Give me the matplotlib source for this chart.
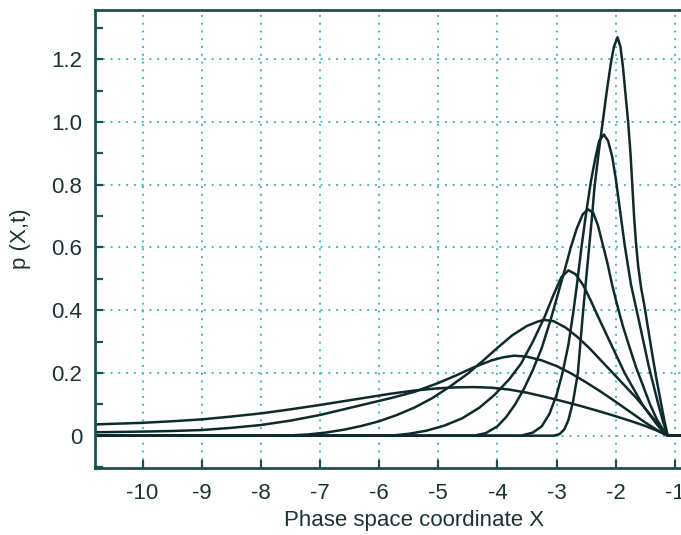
import numpy as np
import matplotlib
matplotlib.use('Agg')
import matplotlib.pyplot as plt
from matplotlib.ticker import MultipleLocator, FixedLocator

plt.rcParams['font.family'] = ['Liberation Sans', 'DejaVu Sans']

# curves, from tallest (latest) to flattest;
# each one lies on p = 0 outside its support
c1_x = [-10.8, -3.05, -2.95, -2.87, -2.8, -2.72, -2.64, -2.6, -2.55, -2.5, -2.45, -2.4, -2.36,
        -2.29, -2.22, -2.15, -2.08, -2.03, -1.97, -1.92, -1.88, -1.84, -1.79, -1.75, -1.72,
        -1.69, -1.66, -1.62, -1.57, -1.52, -1.46, -1.4, -1.32, -1.25, -1.18, -1.12, 0.0]
c1_y = [0.0, 0.0, 0.005, 0.02, 0.05, 0.11, 0.2, 0.29, 0.4, 0.5, 0.6, 0.7, 0.79,
        0.9, 1.0, 1.1, 1.19, 1.24, 1.27, 1.24, 1.18, 1.1, 1.0, 0.9, 0.8,
        0.7, 0.62, 0.54, 0.47, 0.42, 0.35, 0.28, 0.19, 0.12, 0.05, 0.0, 0.0]

c2_x = [-10.8, -3.6, -3.4, -3.25, -3.12, -3.0, -2.9, -2.8, -2.72, -2.65, -2.58, -2.5, -2.42,
        -2.35, -2.28, -2.2, -2.13, -2.06, -2.0, -1.95, -1.9, -1.85, -1.8, -1.74, -1.67,
        -1.6, -1.52, -1.44, -1.36, -1.28, -1.2, -1.12, 0.0]
c2_y = [0.0, 0.0, 0.01, 0.03, 0.07, 0.13, 0.2, 0.29, 0.39, 0.49, 0.6, 0.71, 0.81,
        0.88, 0.94, 0.96, 0.94, 0.89, 0.82, 0.75, 0.68, 0.61, 0.55, 0.48, 0.42,
        0.36, 0.29, 0.22, 0.16, 0.1, 0.045, 0.0, 0.0]

c3_x = [-10.8, -4.4, -4.2, -4.0, -3.85, -3.7, -3.55, -3.4, -3.25, -3.1, -2.98, -2.86, -2.76,
        -2.66, -2.56, -2.47, -2.38, -2.3, -2.22, -2.14, -2.06, -1.98, -1.88, -1.78, -1.66,
        -1.54, -1.42, -1.3, -1.2, -1.12, 0.0]
c3_y = [0.0, 0.0, 0.008, 0.03, 0.06, 0.1, 0.15, 0.21, 0.28, 0.37, 0.45, 0.53, 0.6,
        0.66, 0.705, 0.722, 0.71, 0.67, 0.61, 0.55, 0.48, 0.42, 0.35, 0.29, 0.22,
        0.16, 0.1, 0.05, 0.02, 0.0, 0.0]

c4_x = [-10.8, -5.8, -5.5, -5.2, -4.9, -4.6, -4.3, -4.05, -3.8, -3.6, -3.4, -3.2, -3.05,
        -2.92, -2.8, -2.68, -2.55, -2.42, -2.3, -2.15, -2.0, -1.85, -1.7, -1.55, -1.4,
        -1.28, -1.18, -1.12, 0.0]
c4_y = [0.0, 0.0, 0.006, 0.016, 0.032, 0.055, 0.09, 0.13, 0.18, 0.23, 0.3, 0.38, 0.45,
        0.505, 0.527, 0.515, 0.48, 0.43, 0.38, 0.32, 0.26, 0.2, 0.15, 0.1, 0.06,
        0.03, 0.01, 0.0, 0.0]

c5_x = [-10.8, -7.6, -7.2, -6.9, -6.6, -6.3, -6.0, -5.7, -5.4, -5.1, -4.8, -4.5, -4.25,
        -4.0, -3.75, -3.5, -3.3, -3.2, -3.05, -2.85, -2.65, -2.45, -2.25, -2.05, -1.85,
        -1.65, -1.45, -1.3, -1.2, -1.12, 0.0]
c5_y = [0.0, 0.0, 0.004, 0.01, 0.019, 0.031, 0.046, 0.066, 0.09, 0.12, 0.157, 0.198, 0.238,
        0.28, 0.32, 0.35, 0.365, 0.369, 0.365, 0.345, 0.315, 0.28, 0.24, 0.2, 0.16,
        0.12, 0.075, 0.04, 0.018, 0.0, 0.0]

c6_x = [-10.8, -10.0, -9.5, -9.0, -8.5, -8.0, -7.5, -7.0, -6.6, -6.2, -5.8, -5.4, -5.0,
        -4.7, -4.4, -4.1, -3.9, -3.72, -3.5, -3.25, -3.0, -2.75, -2.5, -2.25, -2.0,
        -1.75, -1.5, -1.3, -1.12, 0.0]
c6_y = [0.011, 0.013, 0.015, 0.018, 0.025, 0.034, 0.048, 0.066, 0.084, 0.102, 0.12, 0.14, 0.168,
        0.192, 0.218, 0.24, 0.25, 0.255, 0.252, 0.24, 0.222, 0.198, 0.17, 0.14, 0.108,
        0.075, 0.042, 0.018, 0.0, 0.0]

c7_x = [-10.8, -10.0, -9.5, -9.0, -8.5, -8.0, -7.5, -7.0, -6.6, -6.2, -5.8, -5.4, -5.0,
        -4.7, -4.4, -4.1, -3.8, -3.5, -3.2, -2.9, -2.6, -2.3, -2.0, -1.75, -1.5,
        -1.3, -1.12, 0.0]
c7_y = [0.036, 0.041, 0.046, 0.052, 0.061, 0.071, 0.084, 0.098, 0.11, 0.122, 0.134, 0.144, 0.151,
        0.154, 0.155, 0.153, 0.147, 0.137, 0.124, 0.11, 0.095, 0.079, 0.062, 0.047, 0.031,
        0.016, 0.0, 0.0]

curves = [(c1_x, c1_y), (c2_x, c2_y), (c3_x, c3_y), (c4_x, c4_y),
          (c5_x, c5_y), (c6_x, c6_y), (c7_x, c7_y)]

x_ticks = [-10, -9, -8, -7, -6, -5, -4, -3, -2, -1]
y_ticks = [0, 0.2, 0.4, 0.6, 0.8, 1.0, 1.2]
y_labels = ['0', '0.2', '0.4', '0.6', '0.8', '1.0', '1.2']

spine_col = '#1d4f50'
grid_col = '#3fbcbc'
line_col = '#0f2a2a'

fig = plt.figure(figsize=(6.81, 5.35), dpi=100)
# axes run on past the right edge of the picture (the reference is cropped there)
ax = fig.add_axes([95 / 681, 1 - 468 / 535, 639 / 681, 458 / 535])

for xs, ys in curves:
    ax.plot(xs, ys, color=line_col, lw=1.8, solid_joinstyle='round')

ax.set_xlim(-10.805, 0.0)
ax.set_ylim(-0.103, 1.357)

ax.xaxis.set_major_locator(FixedLocator(x_ticks))
ax.set_xticklabels([str(t) for t in x_ticks])
ax.yaxis.set_major_locator(FixedLocator(y_ticks))
ax.set_yticklabels(y_labels)
ax.yaxis.set_minor_locator(MultipleLocator(0.1))

ax.grid(True, which='major', color=grid_col, linestyle=(0, (1, 3)), lw=1.4)
ax.tick_params(which='both', direction='in', length=6, width=1.6, color=spine_col,
               labelsize=16, labelcolor='#1a3434')
ax.tick_params(axis='x', pad=11)
ax.tick_params(axis='y', pad=9)
for s in ax.spines.values():
    s.set_color(spine_col)
    s.set_linewidth(2.0)

ax.set_xlabel('Phase space coordinate X', fontsize=16, color='#1a3434', labelpad=4)
ax.set_ylabel('p (X,t)', fontsize=16, color='#1a3434', labelpad=15)

fig.savefig('out.png', dpi=100)
